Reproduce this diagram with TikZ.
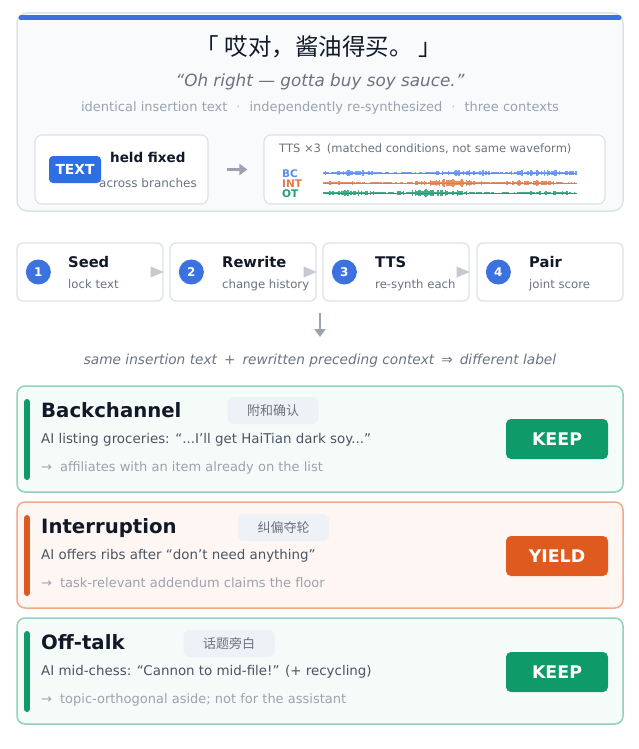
\documentclass[tikz,border=0pt]{standalone}
\usepackage{fontspec}
\setmainfont{DejaVu Sans}
\newfontfamily\cjk{Noto Sans CJK SC}
\usetikzlibrary{arrows.meta,calc}
\definecolor{ink}{HTML}{111827}
\definecolor{mid}{HTML}{4B5563}
\definecolor{soft}{HTML}{6B7280}
\definecolor{faint}{HTML}{9CA3AF}
\definecolor{edge}{HTML}{DDE2E9}
\definecolor{paper}{HTML}{F8FAFC}
\definecolor{blu}{HTML}{3B72E0}
\definecolor{textblu}{HTML}{2F6FE6}
\definecolor{bcblu}{HTML}{5B8DEF}
\definecolor{intorg}{HTML}{E07B45}
\definecolor{otgrn}{HTML}{1F9E76}
\definecolor{keepgrn}{HTML}{0F9A6A}
\definecolor{keepedge}{HTML}{8FD3B8}
\definecolor{keepfill}{HTML}{F5FBF9}
\definecolor{yieldorg}{HTML}{DF5A1F}
\definecolor{yieldedge}{HTML}{EFAA8C}
\definecolor{yieldfill}{HTML}{FEF6F3}
\definecolor{tagfill}{HTML}{EEF1F5}
\definecolor{tipgray}{HTML}{C4C9D1}
\tikzset{
    panel/.style = {draw=edge, fill=paper, line width=1.5pt, rounded corners=10pt,
        minimum width=606pt, minimum height=198pt},
    inbox/.style = {draw=edge, fill=white, line width=1.2pt, rounded corners=7pt, minimum height=69pt},
    badge/.style = {fill=textblu, rounded corners=4pt, minimum width=52pt, minimum height=27pt,
        text=white, font=\bfseries\fontsize{13.8}{16}\selectfont},
    label/.style = {anchor=base west, inner sep=0pt},
    stepbox/.style = {draw=edge, fill=white, line width=1.3pt, rounded corners=6pt,
        minimum width=146pt, minimum height=58pt},
    stepnum/.style = {circle, fill=blu, text=white, inner sep=0pt, minimum size=25pt,
        font=\bfseries\fontsize{12}{14}\selectfont},
    steptitle/.style = {label, text=ink, font=\bfseries\fontsize{14.7}{17}\selectfont},
    stepsub/.style = {label, text=soft, font=\fontsize{11.7}{14}\selectfont},
    card/.style = {line width=1.5pt, rounded corners=8pt, minimum width=606pt, minimum height=106pt},
    cardtitle/.style = {label, text=ink, font=\bfseries\fontsize{19.7}{24}\selectfont},
    cardline/.style = {label, text=mid, font=\fontsize{13.4}{16}\selectfont},
    cardnote/.style = {label, text=faint, font=\fontsize{13}{15}\selectfont},
    tag/.style = {fill=tagfill, rounded corners=6pt, minimum width=91pt, minimum height=27pt,
        text=soft, font=\cjk\fontsize{13}{15}\selectfont},
    verdict/.style = {rounded corners=5pt, minimum width=102pt, minimum height=40pt,
        text=white, font=\bfseries\fontsize{17.4}{20}\selectfont},
    accent/.style = {line width=6pt, line cap=round},
    arrow/.style = {draw=faint, line width=2.6pt, -{Triangle[length=8pt,width=11pt]}},
    steptip/.style = {fill=tipgray}
}
% one row of the waveform: colour, y, seed
\newcommand{\wavebars}[3]{%
    \pgfmathsetseed{#3}
    \foreach \k in {0,...,168}{
        \pgfmathsetmacro{\wx}{324+1.5*\k}
        \pgfmathsetmacro{\wh}{(0.7+3.6*rnd)*(0.2+0.8*abs(sin(\k*2.9+#3)*cos(\k*1.3+2*#3)))}
        \draw[#1!85, line width=1.2pt] (\wx,#2-\wh) -- (\wx,#2+\wh);
    }
    \draw[#1, line width=0.8pt] (324,#2) -- (577,#2);
}

\begin{document}
\begin{tikzpicture}[x=1pt, y=-1pt, >=latex]
    \useasboundingbox (0,0) rectangle (639,749);
    % utterance panel
    \node [panel] (top) at (320,112) {};
    \draw [blu, line width=5pt, line cap=round] (21,18) -- (619,18);
    \node [anchor=base, inner sep=0pt, text=ink, font=\cjk\fontsize{23.5}{28}\selectfont] (zh) at (319,56) {「\hspace{6pt}哎对，酱油得买。\hspace{6pt}」};
    \node [anchor=base, inner sep=0pt, text=soft, font=\itshape\fontsize{16.8}{20}\selectfont] (en) at (320,87) {“Oh right — gotta buy soy sauce.”};
    \node [anchor=base, inner sep=0pt, text=faint, font=\fontsize{13}{15}\selectfont] (meta) at (320,111.5)
        {identical insertion text\hspace{9pt}{\color{faint!70}·}\hspace{9pt}independently re-synthesized\hspace{9pt}{\color{faint!70}·}\hspace{9pt}three contexts};
    \node [inbox, minimum width=173pt] (held) at (121.5,169.5) {};
    \node [badge] (txt) at (75,169.5) {TEXT};
    \node [label, text=ink, font=\bfseries\fontsize{13.5}{16}\selectfont] (fixed) at (110,162) {held fixed};
    \node [label, text=soft, font=\fontsize{12}{14}\selectfont] (branches) at (99,187) {across branches};
    \node [inbox, minimum width=341pt] (tts) at (434.5,169.5) {};
    \draw [arrow, shorten <=18pt, shorten >=16pt] (held) -- (tts);
    \node [label, text=soft, font=\fontsize{11.5}{14}\selectfont] (ttshead) at (279,152) {TTS ×3\hspace{6pt}(matched conditions, not same waveform)};
    \node [label, text=bcblu, font=\bfseries\fontsize{10.5}{12}\selectfont] (bc) at (282,177) {BC};
    \node [label, text=intorg, font=\bfseries\fontsize{10.5}{12}\selectfont] (int) at (282,187) {INT};
    \node [label, text=otgrn, font=\bfseries\fontsize{10.5}{12}\selectfont] (ot) at (282,197) {OT};
    \wavebars{bcblu}{173}{11}
    \wavebars{intorg}{183}{27}
    \wavebars{otgrn}{193}{53}

    % pipeline
    \node [stepbox] (s1) at (90,272) {};
    \node [stepbox, right of=s1, node distance=153pt] (s2) {};
    \node [stepbox, right of=s2, node distance=153pt] (s3) {};
    \node [stepbox, right of=s3, node distance=154pt] (s4) {};
    \foreach \s in {s1,s2,s3}
        \fill [steptip] ($(\s.east)+(-13,-5.5)$) -- ++(13,5.5) -- ++(-13,5.5) -- cycle;
    \node [stepnum, xshift=22pt] (n1) at (s1.west) {1};
    \node [stepnum, xshift=22pt] (n2) at (s2.west) {2};
    \node [stepnum, xshift=22pt] (n3) at (s3.west) {3};
    \node [stepnum, xshift=22pt] (n4) at (s4.west) {4};
    \node [steptitle] at (68,267.5) {Seed};
    \node [stepsub] at (68,288) {lock text};
    \node [steptitle] at (222,267.5) {Rewrite};
    \node [stepsub] at (222,288) {change history};
    \node [steptitle] at (375,267.5) {TTS};
    \node [stepsub] at (375,288) {re-synth each};
    \node [steptitle] at (529,267.5) {Pair};
    \node [stepsub] at (529,288) {joint score};
    \coordinate (flow) at (320,313);
    \coordinate (flowend) at (320,337);
    \draw [arrow, line width=2pt] (flow) -- (flowend);
    \node [anchor=base, inner sep=0pt, text=soft, font=\itshape\fontsize{13.7}{16}\selectfont] (rule) at (320,364.5)
        {same insertion text\hspace{7pt}+\hspace{7pt}rewritten preceding context\hspace{7pt}⇒\hspace{7pt}different label};

    % three contexts
    \node [card, draw=keepedge, fill=keepfill] (bccard) at (320,439) {};
    \node [card, draw=yieldedge, fill=yieldfill, below of=bccard, node distance=116pt] (intcard) {};
    \node [card, draw=keepedge, fill=keepfill, below of=intcard, node distance=116pt] (otcard) {};
    \draw [accent, keepgrn] (27,402) -- (27,477);
    \draw [accent, yieldorg] (27,518) -- (27,593);
    \draw [accent, keepgrn] (27,634) -- (27,709);
    \node [cardtitle] at (41,417) {Backchannel};
    \node [tag] at (273,410.5) {附和确认};
    \node [cardline] at (41,443) {AI listing groceries: “...I’ll get HaiTian dark soy...”};
    \node [cardnote] at (41,471.5) {→\hspace{8pt}affiliates with an item already on the list};
    \node [verdict, fill=keepgrn] at (557,439) {KEEP};
    \node [cardtitle] at (41,533) {Interruption};
    \node [tag] at (283.5,527.5) {纠偏夺轮};
    \node [cardline] at (41,559) {AI offers ribs after “don’t need anything”};
    \node [cardnote] at (41,587.5) {→\hspace{8pt}task-relevant addendum claims the floor};
    \node [verdict, fill=yieldorg] at (557,556) {YIELD};
    \node [cardtitle] at (41,649) {Off-talk};
    \node [tag] at (229,643.5) {话题旁白};
    \node [cardline] at (41,675) {AI mid-chess: “Cannon to mid-file!” (+ recycling)};
    \node [cardnote] at (41,703.5) {→\hspace{8pt}topic-orthogonal aside; not for the assistant};
    \node [verdict, fill=keepgrn] at (557,672) {KEEP};
\end{tikzpicture}
\end{document}
